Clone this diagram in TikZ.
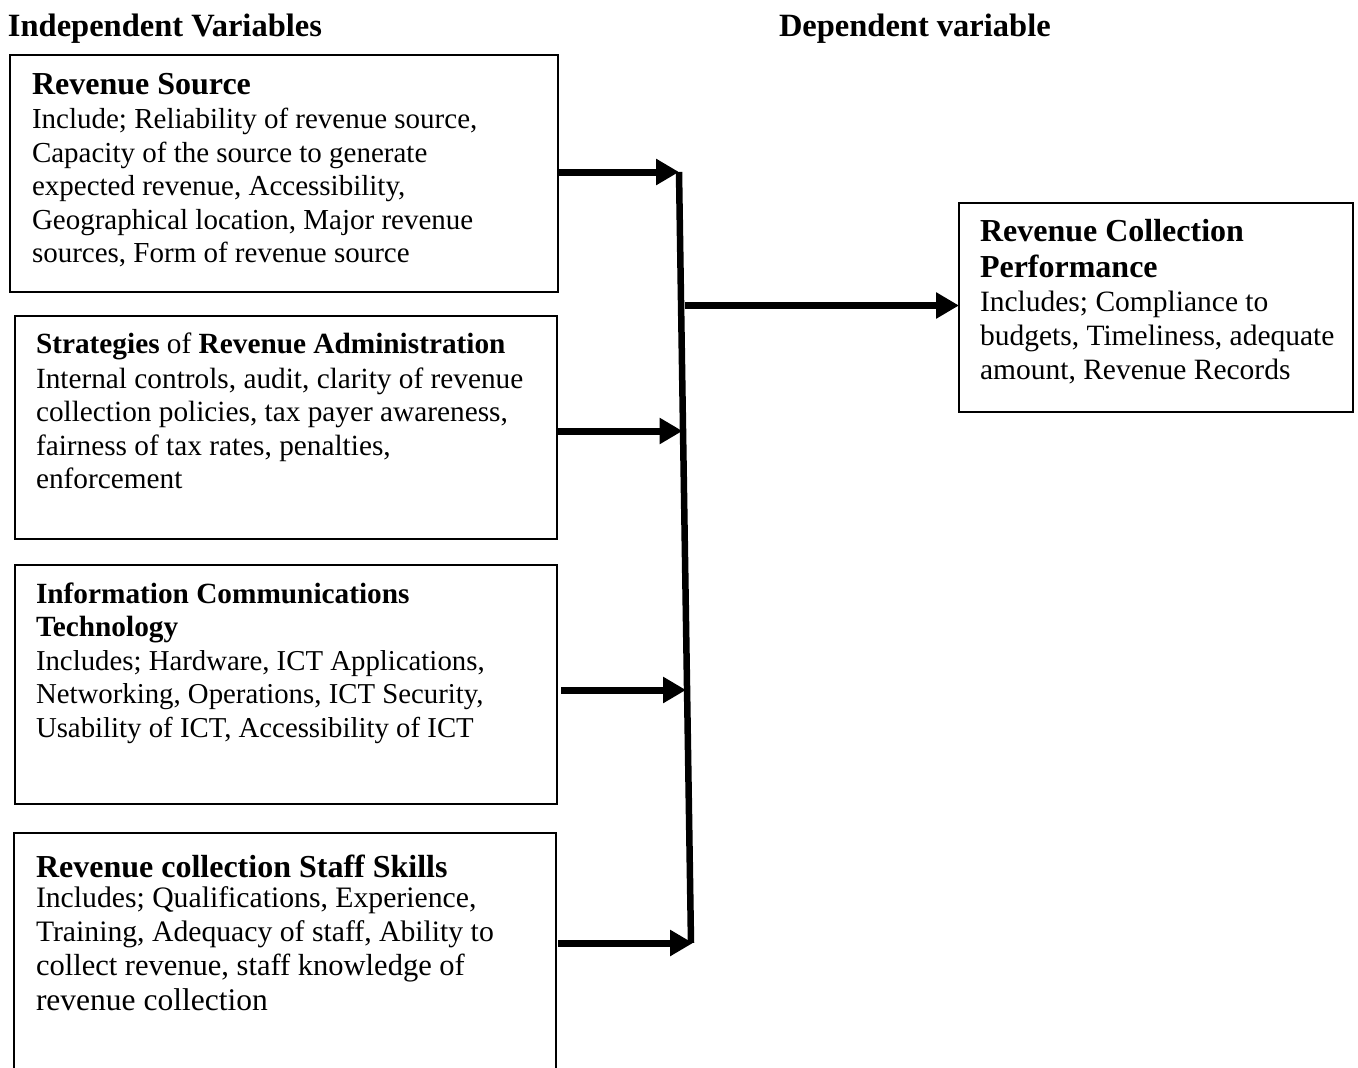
\documentclass[tikz,border=0pt]{standalone}
\usepackage{fontspec}
\setmainfont{Liberation Serif}
\usetikzlibrary{arrows.meta}
\newcommand\bodyfnt{\fontsize{29}{33.5}\selectfont}
\newcommand\headfnt{\fontsize{32}{36}\selectfont\bfseries}
\newcommand\titlefnt{\fontsize{32.5}{36}\selectfont\bfseries}
\newcommand\midfnt{\fontsize{29.3}{33.5}\selectfont}
\newcommand\linesbox[1]{\parbox[t]{700pt}{\raggedright #1}}
\tikzset{
  box/.style={draw, line width=1.6pt, inner sep=0pt, outer sep=0pt, anchor=north west},
  txt/.style={anchor=base west, inner sep=0pt, outer sep=0pt},
  conn/.style={line width=7pt, -{Triangle[length=23pt,width=25pt]}},
  bus/.style={line width=6.5pt},
}
\begin{document}
\begin{tikzpicture}[x=1pt,y=-1pt]
\useasboundingbox (0,0) rectangle (1358,1068);
\clip (0,0) rectangle (1358,1068);
% titles
\node[txt, font=\titlefnt] (tiv) at (8,36) {Independent Variables};
\node[txt, font=\titlefnt] (tdv) at (779,36) {Dependent variable};
% boxes
\node[box, minimum width=548pt, minimum height=237pt] (rs) at (10,55) {};
\node[box, minimum width=542pt, minimum height=223pt] (sa) at (15,316) {};
\node[box, minimum width=542pt, minimum height=239pt] (ict) at (15,565) {};
\node[box, minimum width=542pt, minimum height=260pt] (sk) at (14,833) {};
\node[box, minimum width=394pt, minimum height=209pt] (rcp) at (959,203) {};
% box texts
\node[txt, font=\headfnt] (rsh) at (32,94.8) {Revenue Source};
\node[txt] (rsb) at (32,128.5) {\linesbox{\bodyfnt Include; Reliability of revenue source,\\Capacity of the source to generate\\expected revenue, Accessibility,\\Geographical location, Major revenue\\sources, Form of revenue source}};
\node[txt] (sah) at (36,353.5) {\midfnt\textbf{Strategies} of \textbf{Revenue Administration}};
\node[txt] (sab) at (36,388) {\linesbox{\midfnt Internal controls, audit, clarity of revenue\\collection policies, tax payer awareness,\\fairness of tax rates, penalties,\\enforcement}};
\node[txt] (icth) at (36,603) {\linesbox{\midfnt\bfseries Information Communications\\Technology}};
\node[txt] (ictb) at (36,670) {\linesbox{\fontsize{28.8}{33.5}\selectfont Includes; Hardware, ICT Applications,\\Networking, Operations, ICT Security,\\Usability of ICT, Accessibility of ICT}};
\node[txt, font=\headfnt] (skh) at (36,877) {Revenue collection Staff Skills};
\node[txt] (skb) at (36,907.5) {\linesbox{\fontsize{29.7}{34.2}\selectfont Includes; Qualifications, Experience,\\Training, Adequacy of staff, Ability to\\\fontsize{30.5}{34.2}\selectfont collect revenue, staff knowledge of\\\fontsize{31.5}{34.2}\selectfont revenue collection}};
\node[txt] (rcph) at (980,241) {\linesbox{\headfnt Revenue Collection\\Performance}};
\node[txt] (rcpb) at (980,311) {\linesbox{\fontsize{29.5}{34}\selectfont Includes; Compliance to\\budgets, Timeliness, adequate\\amount, Revenue Records}};
% connectors
\coordinate (b1) at (679,172);
\coordinate (b2) at (682.5,431);
\coordinate (bm) at (684.5,305.5);
\coordinate (b3) at (686,690);
\coordinate (b4) at (691,943);
\draw[bus] (b1) -- (b4);
\draw[conn] (rs.east |- b1) -- (b1);
\draw[conn] (sa.east |- b2) -- (b2);
\draw[conn] ([xshift=4pt]ict.east |- b3) -- (b3);
\draw[conn] ([xshift=2pt]sk.east |- b4) -- ([xshift=2pt]b4);
\draw[conn] (bm) -- (rcp.west |- bm);
\end{tikzpicture}
\end{document}
